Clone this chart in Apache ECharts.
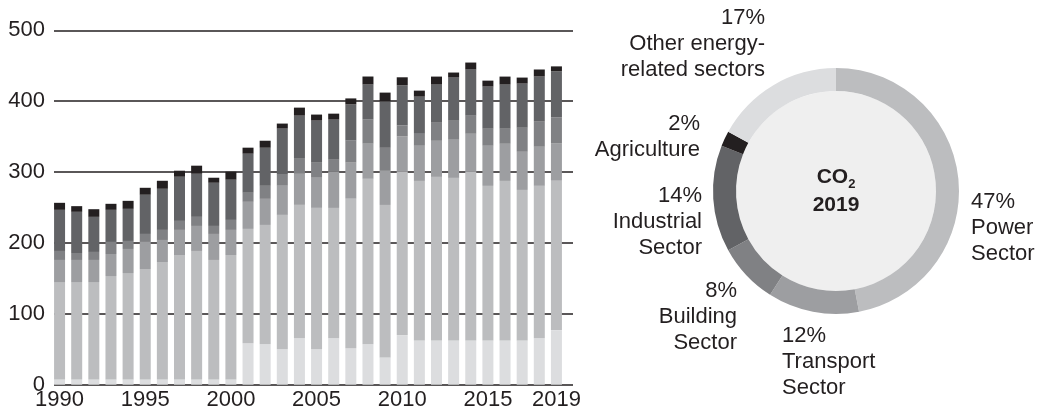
<!DOCTYPE html>
<html>
<head>
<meta charset="utf-8">
<script src="https://cdn.jsdelivr.net/npm/echarts@6/dist/echarts.min.js"></script>
<style>
  html, body { margin: 0; padding: 0; background: #ffffff; }
  #chart { width: 1039px; height: 412px; }
</style>
</head>
<body>
<div id="chart"></div>
<script>
// Annual CO2 emissions by sector, 1990-2019
const years = ['1990', '1991', '1992', '1993', '1994', '1995', '1996', '1997', '1998', '1999',
               '2000', '2001', '2002', '2003', '2004', '2005', '2006', '2007', '2008', '2009',
               '2010', '2011', '2012', '2013', '2014', '2015', '2016', '2017', '2018', '2019'];

const otherEnergy = [7.5, 7.5, 7.5, 7.5, 7.5, 7.5, 7.5, 7.5, 7.5, 7.5,
                     7.5, 58.5, 57, 50, 65.5, 50, 65.5, 51.5, 57, 38.5,
                     70, 62.5, 62.5, 62.5, 62.5, 62.5, 62.5, 62.5, 65.5, 77];
const power = [137.3, 137.3, 137.3, 145.8, 150, 155.7, 165.6, 175.5, 181.2, 168.5,
               175.5, 161.3, 168.4, 189.6, 188.2, 199.5, 183.9, 210.9, 233.5, 215.1,
               230.7, 225, 230.7, 229.3, 237.8, 218, 225, 212.3, 215.1, 210.8];
const transport = [31.2, 31.2, 31.2, 31.1, 34, 38.2, 31.1, 35.4, 35.3, 36.7,
                   35.4, 38.2, 36.8, 41.1, 43.8, 42.5, 51, 50.9, 49.5, 48.1,
                   49.5, 49.6, 50.9, 53.8, 53.7, 56.6, 52.4, 53.8, 55.1, 52.4];
const building = [12.7, 9.8, 11.3, 17, 11.3, 11.3, 14.2, 12.7, 12.8, 11.3,
                  14.1, 12.8, 18.4, 15.5, 21.3, 21.2, 17, 31.1, 34, 32.5,
                  15.6, 16.9, 25.5, 26.8, 25.5, 24, 21.2, 33.9, 35.4, 36.8];
const industrial = [58, 58.1, 49.5, 45.3, 45.3, 55.3, 58, 62.3, 60.8, 60.9,
                    56.7, 55.1, 53.7, 65.1, 60.8, 59.4, 56.6, 51, 49.5, 65.6,
                    56.6, 52.4, 53.8, 60.9, 65.1, 59.5, 62.3, 62.3, 63.7, 65.1];
const agriculture = [9.9, 8, 10.8, 8.5, 11.3, 9.8, 11.3, 8.5, 11.4, 7.1,
                     11.3, 8.5, 9.9, 7.1, 11.3, 8.5, 8.4, 8.5, 11.3, 12.3,
                     11.3, 8.5, 11.3, 7.1, 9.9, 8.4, 11.3, 8.5, 9.9, 7];

const yearTicks = ['1990', '1995', '2000', '2005', '2010', '2015', '2019'];

// 2019 shares (%)
const shareNames = ['Power\nSector', 'Transport\nSector', 'Building\nSector',
                    'Industrial\nSector', 'Agriculture', 'Other energy-\nrelated sectors'];
const shareValues = [47, 12, 8, 14, 2, 17];

const INK = '#231f20';
const FONT = '"Liberation Sans", Arial, Helvetica, sans-serif';
const colors = {
  other: '#dcdddf',
  power: '#bcbdbf',
  transport: '#9d9ea1',
  building: '#808184',
  industrial: '#626366',
  agriculture: '#231f20'
};
const sliceColors = [colors.power, colors.transport, colors.building,
                     colors.industrial, colors.agriculture, colors.other];

// where each donut label block sits (anchor = top edge, aligned side)
const labelAnchors = [
  { x: 971, y: 189, align: 'left' },
  { x: 782, y: 323, align: 'left' },
  { x: 737, y: 278, align: 'right' },
  { x: 702, y: 183, align: 'right' },
  { x: 700, y: 111, align: 'right' },
  { x: 765, y: 5, align: 'right' }
];

function barSeries(name, values, color) {
  return {
    name: name,
    type: 'bar',
    stack: 'total',
    xAxisIndex: 0,
    yAxisIndex: 0,
    barWidth: 11,
    itemStyle: { color: color },
    data: values,
    silent: true
  };
}

const chart = echarts.init(document.getElementById('chart'), null, { renderer: 'canvas' });

chart.setOption({
  animation: false,
  textStyle: { fontFamily: FONT, color: INK },
  grid: [
    // bars
    { left: 51, right: 474, top: 30.3, bottom: 27.3, containLabel: false },
    // value scale with its rules, a little wider than the bar band
    { left: 54, right: 466, top: 30.3, bottom: 27.3, containLabel: false }
  ],
  xAxis: [
    {
      gridIndex: 0,
      type: 'category',
      data: years,
      boundaryGap: true,
      axisLine: { show: false },
      axisTick: { show: false },
      splitLine: { show: false },
      axisLabel: {
        interval: (i, v) => yearTicks.indexOf(v) >= 0,
        color: INK,
        fontSize: 22,
        fontFamily: FONT,
        margin: 4
      }
    },
    {
      gridIndex: 1,
      type: 'value',
      min: 0,
      max: 1,
      show: false
    }
  ],
  yAxis: [
    {
      gridIndex: 0,
      type: 'value',
      min: 0,
      max: 500,
      interval: 100,
      show: false
    },
    {
      gridIndex: 1,
      type: 'value',
      min: 0,
      max: 500,
      interval: 100,
      z: 0,
      axisLine: { show: false },
      axisTick: { show: false },
      splitLine: { show: true, lineStyle: { color: INK, width: 1.5 } },
      axisLabel: { color: INK, fontSize: 22, fontFamily: FONT, margin: 9 }
    }
  ],
  series: [
    barSeries('Other energy-related sectors', otherEnergy, colors.other),
    barSeries('Power Sector', power, colors.power),
    barSeries('Transport Sector', transport, colors.transport),
    barSeries('Building Sector', building, colors.building),
    barSeries('Industrial Sector', industrial, colors.industrial),
    barSeries('Agriculture', agriculture, colors.agriculture),
    {
      // filled disc inside the ring, carrying the centre caption
      type: 'pie',
      center: [836, 191],
      radius: [0, 100],
      silent: true,
      itemStyle: { color: '#efefef' },
      label: {
        show: true,
        position: 'center',
        formatter: '{b|CO}{s|2}\n{b|2019}',
        rich: {
          b: { fontSize: 21, fontWeight: 'bold', lineHeight: 28, color: INK, fontFamily: FONT },
          s: { fontSize: 13, fontWeight: 'bold', lineHeight: 13, verticalAlign: 'bottom', color: INK, fontFamily: FONT }
        }
      },
      labelLine: { show: false },
      data: [{ value: 1, name: 'CO2 2019' }]
    },
    {
      type: 'pie',
      center: [836, 191],
      radius: [100, 123],
      startAngle: 90,
      clockwise: true,
      silent: true,
      avoidLabelOverlap: false,
      label: {
        show: true,
        position: 'outside',
        formatter: p => p.value + '%\n' + p.name,
        fontSize: 22,
        lineHeight: 26,
        color: INK,
        fontFamily: FONT
      },
      labelLine: { show: false },
      labelLayout: function (p) {
        const a = labelAnchors[p.dataIndex];
        return { x: a.x, y: a.y, align: a.align, verticalAlign: 'top' };
      },
      data: shareValues.map((v, i) => ({
        value: v,
        name: shareNames[i],
        itemStyle: { color: sliceColors[i] }
      }))
    }
  ]
});
</script>
</body>
</html>
